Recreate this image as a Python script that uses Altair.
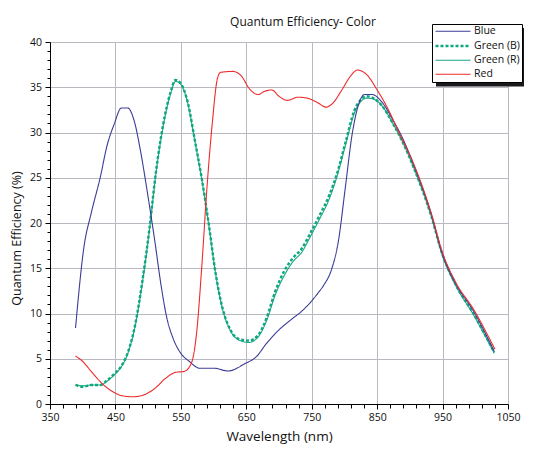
import altair as alt
import pandas as pd

series_names = ["Blue", "Green (B)", "Green (R)", "Red"]
series_colors = ["#3b3b97", "#0fa77e", "#1aa585", "#ee2b2b"]

blue_wl = [389, 402, 413, 427, 437, 448, 459, 469, 479, 488, 499, 510, 520, 528, 539, 550, 563, 579, 601, 622,
           649, 665, 681, 700, 718, 737, 759, 769, 780, 791, 801, 812, 820, 831, 842, 858, 874, 890, 906, 933,
           949, 970, 997, 1029]
blue_qe = [8.4, 17.4, 21.1, 25.1, 28.5, 30.9, 32.7, 32.7, 31.2, 28.1, 23.3, 18.1, 13.0, 9.7, 7.1, 5.6, 4.7, 3.95, 3.95, 3.65,
           4.5, 5.2, 6.7, 8.2, 9.3, 10.4, 12.2, 13.2, 14.8, 18.1, 23.7, 29.9, 32.7, 34.2, 34.2, 33.3, 31.4, 29.2, 26.4, 20.9,
           16.7, 13.3, 10.3, 5.8]

red_wl = [389, 400, 413, 429, 445, 461, 477, 493, 510, 526, 542, 555, 566, 574, 582, 590, 598, 606, 611, 630,
          643, 654, 668, 678, 689, 700, 713, 729, 743, 759, 772, 783, 796, 809, 820, 834, 850, 863, 884, 906,
          933, 949, 970, 997, 1030]
red_qe = [5.3, 4.7, 3.6, 2.3, 1.4, 0.9, 0.8, 1.0, 1.7, 2.8, 3.5, 3.6, 4.5, 7.8, 15.2, 24.0, 31.0, 36.0, 36.65, 36.75,
          36.2, 34.9, 34.2, 34.55, 34.7, 34.0, 33.55, 33.9, 33.8, 33.3, 32.8, 33.3, 34.7, 36.2, 36.9, 36.4, 34.7, 33.1, 29.9, 26.5,
          21.0, 16.9, 13.45, 10.5, 6.05]

green_wl = [389, 400, 413, 427, 437, 448, 459, 469, 480, 491, 502, 512, 523, 534, 542, 550, 561, 571, 582, 593,
            603, 614, 625, 638, 654, 668, 681, 694, 708, 721, 735, 748, 761, 777, 788, 802, 815, 826, 834, 844,
            858, 874, 890, 906, 933, 949, 970, 997, 1029]
green_r_qe = [2.1, 2.0, 2.1, 2.1, 2.5, 3.2, 4.1, 5.6, 8.55, 13.3, 19.2, 25.5, 30.7, 34.2, 35.65, 35.3, 33.1, 29.2, 24.8, 19.6,
              14.45, 10.4, 8.2, 7.1, 6.8, 7.4, 9.2, 12.0, 14.2, 15.7, 16.8, 18.5, 20.3, 22.7, 25.0, 28.7, 32.1, 33.5, 33.8, 33.7,
              32.9, 31.0, 28.8, 26.1, 20.7, 16.6, 13.1, 9.9, 5.6]
green_b_qe = [2.1, 1.9, 2.1, 2.1, 2.6, 3.3, 4.2, 5.7, 8.7, 13.5, 19.4, 25.7, 30.9, 34.4, 35.8, 35.4, 33.2, 29.3, 24.9, 19.7,
              14.5, 10.5, 8.3, 7.2, 7.0, 7.6, 9.5, 12.4, 14.7, 16.1, 17.2, 18.9, 20.7, 23.1, 25.3, 29.0, 32.4, 33.7, 34.0, 33.8,
              32.9, 31.0, 28.8, 26.1, 20.7, 16.7, 13.2, 10.0, 5.7]

x_ticks = list(range(350, 1051, 20))
y_ticks = list(range(0, 41, 1))

frames = [
    pd.DataFrame({"wl": green_wl, "qe": green_r_qe, "series": "Green (R)"}),
    pd.DataFrame({"wl": green_wl, "qe": green_b_qe, "series": "Green (B)"}),
    pd.DataFrame({"wl": blue_wl, "qe": blue_qe, "series": "Blue"}),
    pd.DataFrame({"wl": red_wl, "qe": red_qe, "series": "Red"}),
]
df = pd.concat(frames, ignore_index=True)

FONT = "Open Sans"
TXT = "#111111"
GRID = "#b9b9c2"

x_axis = alt.Axis(
    values=x_ticks, format="d",
    labelExpr="(datum.value - 350) % 100 === 0 ? datum.label : ''",
    title="Wavelength (nm)",
    titleFontSize=13.5, titleFontWeight="normal", titleFont=FONT, titleColor=TXT,
    titlePadding=7,
    labelFont=FONT, labelFontSize=10.5, labelColor=TXT, labelPadding=3,
    domainColor="black", tickColor="black",
    tickSize={"condition": {"test": "(datum.value - 350) % 100 === 0", "value": 5}, "value": 4},
    gridColor=GRID,
    gridOpacity={"condition": {"test": "(datum.value - 350) % 100 === 0", "value": 1}, "value": 0},
    labelOverlap=False, labelFlush=False,
)
y_axis = alt.Axis(
    values=y_ticks, format="d",
    labelExpr="datum.value % 5 === 0 ? datum.label : ''",
    title="Quantum Efficiency (%)",
    titleFontSize=12.5, titleFontWeight="normal", titleFont=FONT, titleColor=TXT,
    titlePadding=6, titleY=196, titleAlign="center", titleAngle=270,
    labelFont=FONT, labelFontSize=10.5, labelColor=TXT, labelPadding=3.5,
    domainColor="black", tickColor="black",
    tickSize={"condition": {"test": "datum.value % 5 === 0", "value": 5}, "value": 3},
    gridColor=GRID,
    gridOpacity={"condition": {"test": "datum.value % 5 === 0", "value": 1}, "value": 0},
    labelOverlap=False, labelFlush=False,
)

legend = alt.Legend(
    title=None, orient="none", legendX=382, legendY=-18,
    strokeColor="black", fillColor="white", padding=2,
    symbolType="M-4,0H4", symbolSize=76.6, symbolOffset=13,
    labelFont=FONT, labelFontSize=10.5, labelColor=TXT, labelAlign="left",
    labelOffset=15, rowPadding=3,
)

base = alt.Chart(df).encode(
    x=alt.X("wl:Q", scale=alt.Scale(domain=[350, 1050], nice=False, zero=False), axis=x_axis),
    y=alt.Y("qe:Q", scale=alt.Scale(domain=[0, 40], nice=False), axis=y_axis),
    color=alt.Color("series:N", scale=alt.Scale(domain=series_names, range=series_colors), legend=legend),
    strokeDash=alt.StrokeDash("series:N", scale=alt.Scale(type="ordinal", domain=series_names,
                                                          range=[[1, 0], [3, 2], [1, 0], [1, 0]]), legend=legend),
    strokeWidth=alt.StrokeWidth("series:N", scale=alt.Scale(type="ordinal", domain=series_names,
                                                            range=[1.1, 2.4, 1.1, 1.1]), legend=legend),
)

layers = [base.transform_filter(alt.datum.series == s).mark_line(interpolate="monotone")
          for s in ["Green (R)", "Green (B)", "Blue", "Red"]]

shadow = alt.Chart(pd.DataFrame({"k": [0]})).mark_rect(color="#1a1a1a").encode(
    x=alt.value(386), x2=alt.value(474), y=alt.value(-14), y2=alt.value(44.5)
)

chart = alt.layer(shadow, *layers).properties(
    width=458, height=362,
    title=alt.TitleParams("Quantum Efficiency- Color", font=FONT, fontSize=12, fontWeight="normal",
                          color=TXT, dx=24, dy=5, offset=0, anchor="middle", frame="group"),
    autosize=alt.AutoSizeParams(type="none"),
    padding={"left": 42, "top": 34, "right": 32, "bottom": 44},
).configure_view(stroke=None).configure(background="white")

chart.save("out.html", embed_options={"renderer": "svg", "actions": False})
